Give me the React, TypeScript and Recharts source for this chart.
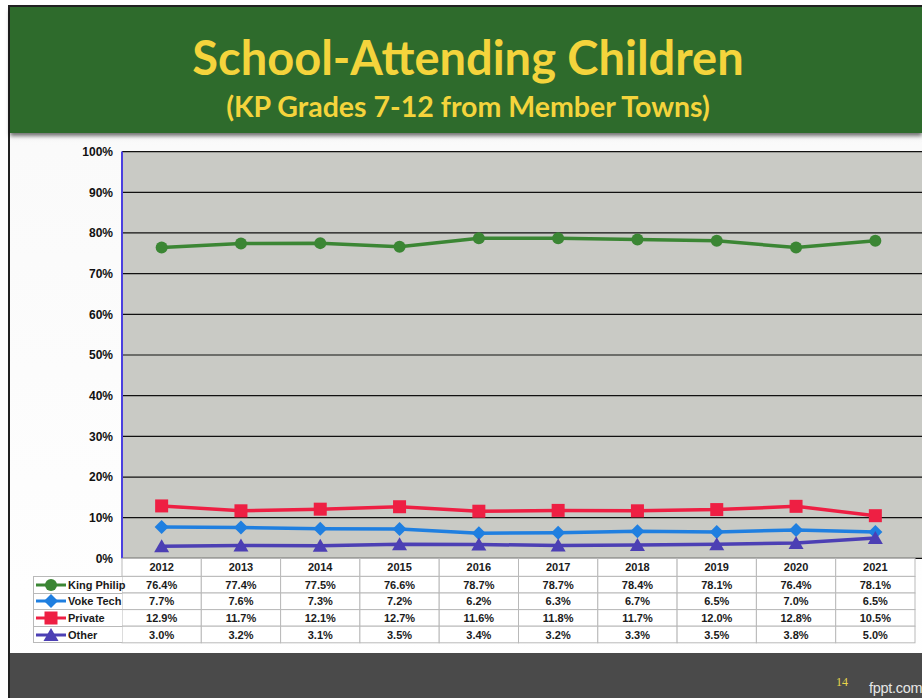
import { CartesianGrid, Line, LineChart, XAxis, YAxis } from "recharts"

const years = ["2012", "2013", "2014", "2015", "2016", "2017", "2018", "2019", "2020", "2021"]
const kingPhilip = [76.4, 77.4, 77.5, 76.6, 78.7, 78.7, 78.4, 78.1, 76.4, 78.1]
const vokeTech = [7.7, 7.6, 7.3, 7.2, 6.2, 6.3, 6.7, 6.5, 7.0, 6.5]
const privateSchool = [12.9, 11.7, 12.1, 12.7, 11.6, 11.8, 11.7, 12.0, 12.8, 10.5]
const other = [3.0, 3.2, 3.1, 3.5, 3.4, 3.2, 3.3, 3.5, 3.8, 5.0]
const yTicks = [0, 10, 20, 30, 40, 50, 60, 70, 80, 90, 100]

const series = [
  { key: "kp", name: "King Philip", values: kingPhilip, color: "#3b8634", shape: "circle" },
  { key: "vt", name: "Voke Tech", values: vokeTech, color: "#1f7fe0", shape: "diamond" },
  { key: "pr", name: "Private", values: privateSchool, color: "#ee1f43", shape: "square" },
  { key: "ot", name: "Other", values: other, color: "#4c3fb4", shape: "triangle" },
]

const data = years.map((year, i) => {
  const row: Record<string, string | number> = { year }
  series.forEach((s) => (row[s.key] = s.values[i]))
  return row
})

const COL = 79.3
const HEAD_H = 18
const ROW_H = 16.6
const FONT = "'Liberation Sans', Arial, sans-serif"

const Marker = ({ cx, cy, shape, color }: any) => {
  if (cx == null || cy == null) return null
  if (shape === "circle") return <circle cx={cx} cy={cy} r={6} fill={color} />
  if (shape === "diamond")
    return <path d={`M${cx},${cy - 7}L${cx + 7},${cy}L${cx},${cy + 7}L${cx - 7},${cy}Z`} fill={color} />
  if (shape === "square") return <rect x={cx - 6.5} y={cy - 6.5} width={13} height={13} fill={color} />
  return <path d={`M${cx},${cy - 7}L${cx + 7.5},${cy + 6}L${cx - 7.5},${cy + 6}Z`} fill={color} />
}

// the data table under the plot, one column per category tick
const TableTick = ({ x, y, payload }: any) => {
  const i = payload.index
  const left = x - COL / 2
  return (
    <g fontFamily={FONT} fontWeight="bold" fontSize={11} fill="#1a1a1a">
      <rect x={left} y={y} width={COL} height={HEAD_H} fill="#fff" stroke="#b9b9b9" />
      <text x={x} y={y + HEAD_H / 2 + 4} textAnchor="middle" fill="#1a1a1a">
        {years[i]}
      </text>
      {series.map((s, r) => {
        const top = y + HEAD_H + r * ROW_H
        return (
          <g key={s.key}>
            <rect x={left} y={top} width={COL} height={ROW_H} fill="#fff" stroke="#b9b9b9" />
            <text x={x} y={top + ROW_H / 2 + 4} textAnchor="middle" fill="#1a1a1a">
              {s.values[i].toFixed(1)}%
            </text>
          </g>
        )
      })}
    </g>
  )
}

const TableLegend = () => (
  <div
    style={{
      position: "absolute",
      left: 33,
      top: 576,
      width: 89,
      fontFamily: FONT,
      fontWeight: "bold",
      fontSize: 11,
      color: "#1a1a1a",
      borderTop: "1px solid #b9b9b9",
    }}
  >
    {series.map((s) => (
      <div
        key={s.key}
        style={{
          height: ROW_H,
          boxSizing: "border-box",
          borderLeft: "1px solid #b9b9b9",
          borderBottom: "1px solid #b9b9b9",
          display: "flex",
          alignItems: "center",
          background: "#fff",
          whiteSpace: "nowrap",
        }}
      >
        <svg width={34} height={14} style={{ flex: "none" }}>
          <line x1={2} y1={7} x2={32} y2={7} stroke={s.color} strokeWidth={3} />
          <Marker cx={17} cy={7} shape={s.shape} color={s.color} />
        </svg>
        <span>{s.name}</span>
      </div>
    ))}
  </div>
)

const App = () => {
  return (
    <div style={{ position: "absolute", left: 0, top: 0, width: 922, height: 698, background: "#fff", overflow: "hidden" }}>
      <div
        style={{
          position: "absolute",
          left: 8,
          top: 5,
          width: 920,
          height: 700,
          border: "2px solid #222",
          background: "linear-gradient(#eeeeee, #fafafa 20%, #ffffff)",
        }}
      />
      <div
        style={{
          position: "absolute",
          left: 10,
          top: 7,
          width: 912,
          height: 126,
          background: "#2e6b2c",
          boxShadow: "0 3px 4px rgba(0,0,0,0.55)",
          textAlign: "center",
          color: "#f4d43c",
          fontFamily: "Lato, sans-serif",
          fontWeight: "bold",
        }}
      >
        <div style={{ fontSize: 47, marginTop: 24, lineHeight: "52px", marginLeft: 4 }}>School-Attending Children</div>
        <div style={{ fontSize: 28.5, marginTop: 7, lineHeight: "32px", marginLeft: 4 }}>(KP Grades 7-12 from Member Towns)</div>
      </div>
      <div style={{ position: "absolute", left: 10, top: 653, width: 912, height: 45, background: "#4a4a4a" }}>
        <span style={{ position: "absolute", left: 826, top: 22, color: "#e8d44a", fontSize: 12, fontFamily: "'Liberation Serif', serif" }}>
          14
        </span>
        <span style={{ position: "absolute", left: 859, top: 27, color: "#e6e6e6", fontSize: 14.5, fontFamily: FONT, letterSpacing: -0.3 }}>
          fppt.com
        </span>
      </div>
      <div style={{ position: "absolute", left: 0, top: 0 }}>
        <LineChart width={922} height={698} data={data} margin={{ top: 151.6, right: 0, bottom: 54.6, left: 60 }}>
          <CartesianGrid vertical={false} stroke="#111" strokeWidth={1.2} fill="#c9cac5" fillOpacity={1} />
          <XAxis
            dataKey="year"
            axisLine={false}
            tickLine={false}
            tickSize={0}
            tickMargin={0}
            height={85}
            interval={0}
            padding={{ left: COL / 2, right: COL / 2 + 7 }}
            tick={<TableTick />}
          />
          <YAxis
            width={62}
            domain={[0, 100]}
            ticks={yTicks}
            tickFormatter={(v: number) => `${v}%`}
            axisLine={{ stroke: "#4a3fe0", strokeWidth: 2 }}
            tickLine={false}
            tickSize={0}
            tickMargin={9}
            tick={{ fill: "#111", fontSize: 12, fontWeight: "bold", fontFamily: FONT }}
          />
          {series.map((s) => (
            <Line
              key={s.key}
              dataKey={s.key}
              name={s.name}
              type="linear"
              stroke={s.color}
              strokeWidth={3.5}
              dot={(p: any) => <Marker key={`${s.key}-${p.index}`} cx={p.cx} cy={p.cy} shape={s.shape} color={s.color} />}
              activeDot={false}
              isAnimationActive={false}
            />
          ))}
        </LineChart>
      </div>
      <TableLegend />
    </div>
  )
}

export default App
